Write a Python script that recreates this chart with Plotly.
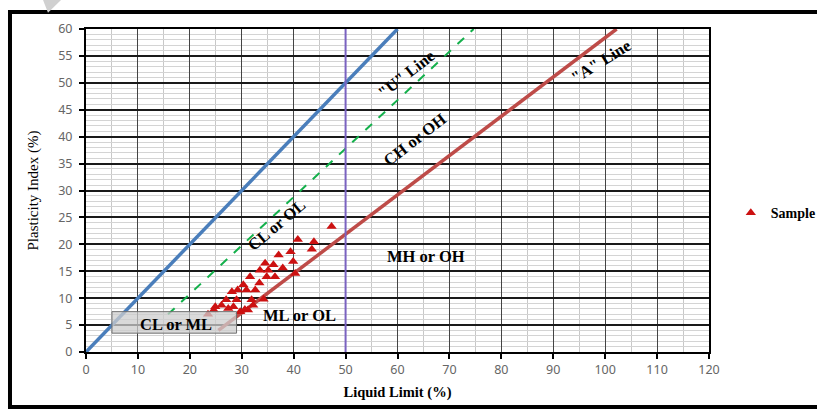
import plotly.graph_objects as go

# ---- data ----
sample_ll = [47.3, 40.8, 43.9, 43.5, 39.4, 37.1, 39.9, 40.3, 34.5, 36.1, 37.9, 33.5,
             35.1, 36.4, 34.8, 31.6, 33.4, 30.3, 32.6, 29.2, 30.9, 28.1, 34.2, 31.9,
             29.0, 27.0, 26.1, 28.4, 32.2, 30.6, 24.9, 24.6, 31.2, 29.7, 27.4, 23.5]
sample_pi = [23.3, 20.9, 20.5, 19.1, 18.6, 18.0, 16.8, 14.6, 16.5, 16.2, 15.6, 15.2,
             15.2, 14.0, 14.0, 14.0, 12.8, 12.5, 11.5, 11.5, 11.5, 11.2, 9.8, 9.7,
             9.7, 9.7, 8.7, 8.4, 8.7, 7.9, 8.4, 7.8, 7.8, 7.5, 8.1, 7.0]

blue_ll = [0, 60]
blue_pi = [0, 60]
u_ll = [15.8, 74.67]
u_pi = [7, 60]
a_ll = [25.5, 102.2]
a_pi = [4, 60]
ll50_x = [50, 50]
ll50_y = [0, 60]

x_ticks = list(range(0, 121, 10))
y_ticks = list(range(0, 61, 5))

serif = "Liberation Serif"

fig = go.Figure()

fig.add_trace(go.Scatter(x=blue_ll, y=blue_pi, mode="lines",
                         line=dict(color="#4a7ebb", width=3.5), showlegend=False, hoverinfo="skip"))
fig.add_trace(go.Scatter(x=u_ll, y=u_pi, mode="lines",
                         line=dict(color="#13b04b", width=2, dash="dash"), showlegend=False, hoverinfo="skip"))
fig.add_trace(go.Scatter(x=a_ll, y=a_pi, mode="lines",
                         line=dict(color="#be4b48", width=3.5), showlegend=False, hoverinfo="skip"))
fig.add_trace(go.Scatter(x=ll50_x, y=ll50_y, mode="lines",
                         line=dict(color="#7a62c0", width=2), showlegend=False, hoverinfo="skip"))
fig.add_trace(go.Scatter(x=sample_ll, y=sample_pi, mode="markers", name="<b>Sample</b>",
                         marker=dict(symbol="triangle-up", color="#cc1111", size=9)))

# CL or ML box
fig.add_shape(type="rect", xref="x", yref="y", x0=5, x1=29, y0=3.5, y1=7.5,
              fillcolor="rgba(205,205,205,0.75)", line=dict(color="#707070", width=1), layer="above")

lab = dict(family=serif, size=16.5, color="black")
def label(x, y, t, ang=0):
    fig.add_annotation(x=x, y=y, xref="x", yref="y", text="<b>%s</b>" % t, showarrow=False,
                       textangle=ang, font=lab)

label(17.3, 5.1, "CL or ML")
label(41.2, 6.8, "ML or OL")
label(65.5, 17.7, "MH or OH")
label(36.6, 23.5, "CL or OL", -40)
label(63.4, 39.4, "CH or OH", -38)
label(61.6, 51.6, '"U" Line', -38)
label(99.2, 53.9, '"A" Line', -32)

# outer frame
fig.add_shape(type="rect", xref="paper", yref="paper", x0=-0.122, x1=1.25, y0=-0.170, y1=1.0526,
              line=dict(color="black", width=4), fillcolor="rgba(0,0,0,0)", layer="above")
# gray wedge at top-left
fig.add_shape(type="path", xref="paper", yref="paper",
              path="M -0.069 1.09 L -0.04 1.09 L -0.061 1.05 Z",
              fillcolor="#d0d0d0", line=dict(width=0))

tickfont = dict(family="Noto Sans", size=12.5, color="#666666")

fig.update_xaxes(range=[0, 120], tickvals=x_ticks, ticktext=[str(v) for v in x_ticks],
                 showgrid=True, gridcolor="#444444", gridwidth=1.2,
                 minor=dict(dtick=5, tick0=0, showgrid=True, gridcolor="#c8c8c8", gridwidth=1),
                 ticks="outside", ticklen=5, tickcolor="black", tickwidth=1.5,
                 showline=True, linecolor="black", linewidth=2, mirror=True,
                 zeroline=False, tickfont=tickfont,
                 title=dict(text="<b>Liquid Limit (%)</b>", font=dict(family=serif, size=14.5, color="black"),
                            standoff=10))
fig.update_yaxes(range=[0, 60], tickvals=y_ticks, ticktext=[str(v) for v in y_ticks],
                 showgrid=True, gridcolor="#1a1a1a", gridwidth=1.6,
                 minor=dict(dtick=1, tick0=0, showgrid=True, gridcolor="#d4d4d4", gridwidth=1),
                 ticks="outside", ticklen=5, tickcolor="black", tickwidth=1.5,
                 showline=True, linecolor="black", linewidth=2, mirror=True,
                 zeroline=False, tickfont=tickfont, ticklabelstandoff=4,
                 title=dict(text="Plasticity Index (%)", font=dict(family=serif, size=15, color="black"),
                            standoff=16))

fig.update_layout(
    width=817, height=410,
    margin=dict(l=86, r=108, t=29, b=58, autoexpand=False),
    paper_bgcolor="white", plot_bgcolor="white",
    showlegend=True,
    legend=dict(x=1.035, y=0.43, xanchor="left", yanchor="middle",
                font=dict(family=serif, size=14, color="black"),
                bgcolor="rgba(0,0,0,0)", itemwidth=30, tracegroupgap=0),
)

fig.write_html("out.html")
